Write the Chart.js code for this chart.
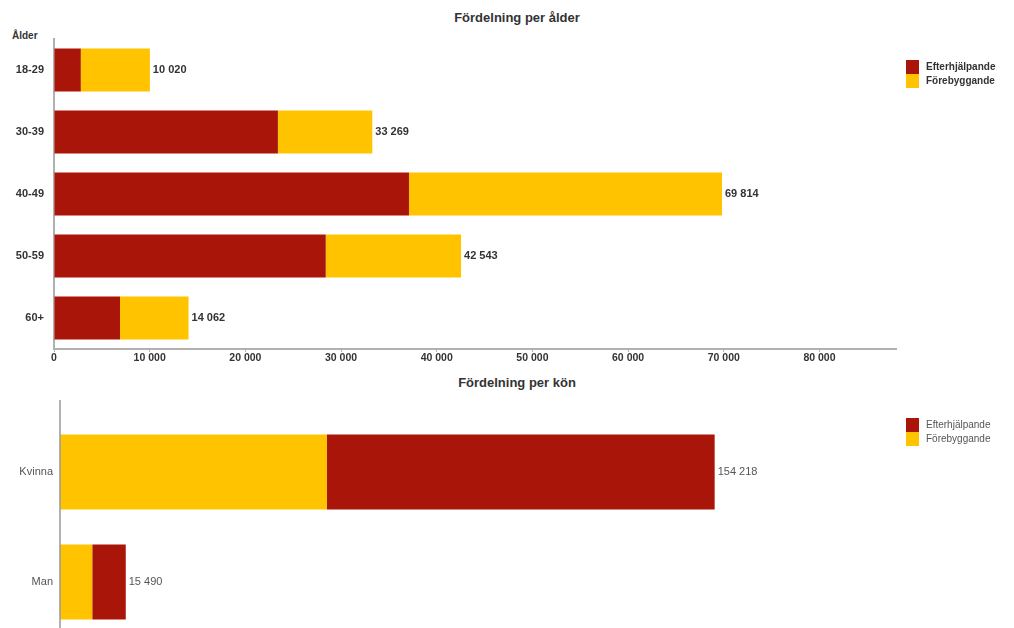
<!DOCTYPE html>
<html lang="sv">
<head>
<meta charset="utf-8">
<script src="https://cdn.jsdelivr.net/npm/chart.js@4/dist/chart.umd.min.js"></script>
<style>
  html, body { margin: 0; padding: 0; background: #fff; width: 1014px; height: 628px; overflow: hidden; }
  body { position: relative; font-family: 'Liberation Sans', Arial, sans-serif; }
  canvas { position: absolute; left: 0; }
  #ageChart { top: 0; }
  #sexChart { top: 372px; }
  .title { position: absolute; left: 0; width: 1034px; text-align: center; font-weight: bold; font-size: 13px; color: #333; }
  .axis-title { position: absolute; left: 12px; top: 30px; font-weight: bold; font-size: 10px; color: #333; }
  .legend { position: absolute; left: 906px; font-size: 10px; }
  .legend div { height: 14px; line-height: 14px; white-space: nowrap; }
  .legend span { display: inline-block; width: 13px; height: 14px; vertical-align: top; margin-right: 7px; }
  .legend.bold { font-weight: bold; color: #333; }
  .legend.plain { color: #555; }
</style>
</head>
<body>
<div class="title" style="top:10px">Fördelning per ålder</div>
<div class="axis-title">Ålder</div>
<canvas id="ageChart" width="1014" height="372"></canvas>
<div class="legend bold" style="top:60px">
  <div><span style="background:#AA1509"></span>Efterhjälpande</div>
  <div><span style="background:#FFC300"></span>Förebyggande</div>
</div>

<div class="title" style="top:375px">Fördelning per kön</div>
<canvas id="sexChart" width="1014" height="300"></canvas>
<div class="legend plain" style="top:418px">
  <div><span style="background:#AA1509"></span>Efterhjälpande</div>
  <div><span style="background:#FFC300"></span>Förebyggande</div>
</div>

<script>
// Age groups
const ageLabels = ['18-29', '30-39', '40-49', '50-59', '60+'];
const ageEfter = [2800, 23400, 37100, 28400, 6900];
const ageFore = [7220, 9869, 32714, 14143, 7162];
const ageTicks = [0, 10000, 20000, 30000, 40000, 50000, 60000, 70000, 80000];

// Sex
const sexLabels = ['Kvinna', 'Man'];
const sexFore = [62900, 7600];
const sexEfter = [91318, 7890];

const RED = '#AA1509';
const YELLOW = '#FFC300';

const fmt = (v) => String(Math.round(v)).replace(/\B(?=(\d{3})+(?!\d))/g, ' ');

// writes the stacked total just right of each bar
const totalsPlugin = {
  id: 'totals',
  afterDatasetsDraw(chart, args, opts) {
    const ctx = chart.ctx;
    const last = chart.getDatasetMeta(chart.data.datasets.length - 1);
    ctx.save();
    ctx.font = opts.font;
    ctx.fillStyle = opts.color;
    ctx.textBaseline = 'middle';
    ctx.textAlign = 'left';
    last.data.forEach((bar, i) => {
      const sum = chart.data.datasets.reduce((a, ds) => a + ds.data[i], 0);
      ctx.fillText(fmt(sum), bar.x + 3, bar.y);
    });
    ctx.restore();
  }
};

// left axis line that runs from above the first bar down past the canvas
const axisLinePlugin = {
  id: 'axisLine',
  afterDraw(chart, args, opts) {
    if (!opts.top && opts.top !== 0) return;
    const ctx = chart.ctx;
    const x = chart.chartArea.left;
    ctx.save();
    ctx.strokeStyle = opts.color;
    ctx.lineWidth = opts.width;
    ctx.beginPath();
    ctx.moveTo(x, opts.top);
    ctx.lineTo(x, chart.height);
    ctx.stroke();
    ctx.restore();
  }
};

new Chart(document.getElementById('ageChart'), {
  type: 'bar',
  data: {
    labels: ageLabels,
    datasets: [
      { label: 'Efterhjälpande', data: ageEfter, backgroundColor: RED, barPercentage: 0.69, categoryPercentage: 1 },
      { label: 'Förebyggande', data: ageFore, backgroundColor: YELLOW, barPercentage: 0.69, categoryPercentage: 1 },
    ]
  },
  plugins: [totalsPlugin],
  options: {
    indexAxis: 'y',
    responsive: false,
    animation: false,
    devicePixelRatio: 1,
    layout: { padding: { top: 39, right: 118, left: 0, bottom: 0 } },
    plugins: {
      legend: { display: false },
      tooltip: { enabled: false },
      totals: { font: "bold 11px 'Liberation Sans', Arial, sans-serif", color: '#333' },
    },
    scales: {
      y: {
        stacked: true,
        grid: { display: false, drawTicks: false },
        border: { color: '#b0b0b0', width: 2 },
        ticks: { padding: 10, color: '#333', font: { family: "'Liberation Sans', Arial, sans-serif", size: 11, weight: 'bold' } },
        afterFit: (s) => { s.width = 54; },
      },
      x: {
        stacked: true,
        min: 0,
        max: 88000,
        grid: { drawOnChartArea: false, drawTicks: true, tickLength: 3, color: '#b0b0b0' },
        border: { color: '#b0b0b0', width: 2 },
        afterBuildTicks: (s) => { s.ticks = ageTicks.map(v => ({ value: v })); },
        ticks: {
          padding: 0,
          color: '#333',
          maxRotation: 0,
          autoSkip: false,
          font: { family: "'Liberation Sans', Arial, sans-serif", size: 10.5, weight: 'bold' },
          callback: (v) => fmt(v),
        },
        afterFit: (s) => { s.height = 23; },
      }
    }
  }
});

new Chart(document.getElementById('sexChart'), {
  type: 'bar',
  data: {
    labels: sexLabels,
    datasets: [
      { label: 'Förebyggande', data: sexFore, backgroundColor: YELLOW, barPercentage: 0.68, categoryPercentage: 1 },
      { label: 'Efterhjälpande', data: sexEfter, backgroundColor: RED, barPercentage: 0.68, categoryPercentage: 1 },
    ]
  },
  plugins: [totalsPlugin, axisLinePlugin],
  options: {
    indexAxis: 'y',
    responsive: false,
    animation: false,
    devicePixelRatio: 1,
    layout: { padding: { top: 45, right: 105, left: 0, bottom: 35 } },
    plugins: {
      legend: { display: false },
      tooltip: { enabled: false },
      totals: { font: "11px 'Liberation Sans', Arial, sans-serif", color: '#555' },
      axisLine: { top: 28, color: '#999', width: 1.5 },
    },
    scales: {
      y: {
        stacked: true,
        grid: { display: false, drawTicks: false },
        border: { display: false },
        ticks: { padding: 7, color: '#555', font: { family: "'Liberation Sans', Arial, sans-serif", size: 11 } },
        afterFit: (s) => { s.width = 60; },
      },
      x: {
        stacked: true,
        display: false,
        min: 0,
        max: 200000,
      }
    }
  }
});
</script>
</body>
</html>
